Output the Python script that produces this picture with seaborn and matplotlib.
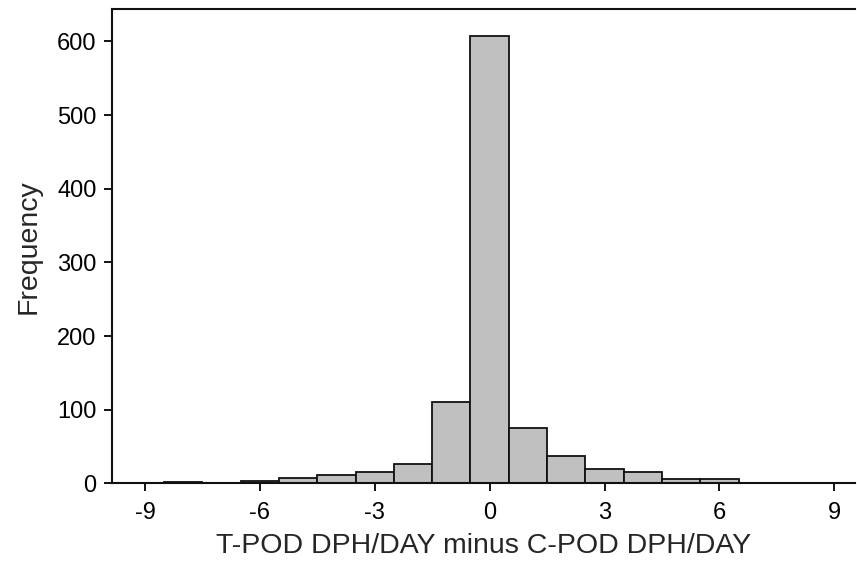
import matplotlib
matplotlib.use("Agg")
import matplotlib.pyplot as plt
import seaborn as sns
import pandas as pd

# data
bin_centers = [-9, -8, -7, -6, -5, -4, -3, -2, -1, 0, 1, 2, 3, 4, 5, 6, 7, 8, 9]
frequencies = [0, 2, 0, 4, 8, 11, 16, 26, 111, 608, 75, 37, 20, 15, 6, 6, 0, 0, 0]
x_ticks = [-9, -6, -3, 0, 3, 6, 9]
y_ticks = [0, 100, 200, 300, 400, 500, 600]
x_label = "T-POD DPH/DAY minus C-POD DPH/DAY"
y_label = "Frequency"

df = pd.DataFrame({"diff": bin_centers, "count": frequencies})

sns.set_theme(style="white")
plt.rcParams['font.family'] = ['Liberation Sans', 'DejaVu Sans']

fig = plt.figure(figsize=(8.57, 5.62), dpi=100)
ax = fig.add_axes([0.1307, 0.1397, 0.9977 - 0.1307, 0.984 - 0.1397])

sns.histplot(data=df, x="diff", weights="count", binwidth=1,
             binrange=(min(bin_centers) - 0.5, max(bin_centers) + 0.5), ax=ax,
             color="#c0c0c0", edgecolor="#111111", linewidth=1.3, alpha=1.0)

ax.set_xlim(-9.86, 9.54)
ax.set_ylim(0, 644)
ax.set_xticks(x_ticks)
ax.set_xticklabels([str(t) for t in x_ticks])
ax.set_yticks(y_ticks)
ax.set_xlabel(x_label, fontsize=20.5, labelpad=7)
ax.set_ylabel(y_label, fontsize=20.5, labelpad=11)
ax.tick_params(axis='both', which='major', labelsize=17, direction='out',
               length=6, width=1.3, color='black', labelcolor='black')
ax.tick_params(axis='x', pad=7)
ax.tick_params(axis='y', pad=5)
ax.tick_params(bottom=True, left=True)

for side in ['left', 'top', 'bottom']:
    ax.spines[side].set_visible(True)
    ax.spines[side].set_color('#111111')
    ax.spines[side].set_linewidth(1.5)
ax.spines['right'].set_visible(False)
ax.grid(False)

fig.savefig("out.png", dpi=100)
